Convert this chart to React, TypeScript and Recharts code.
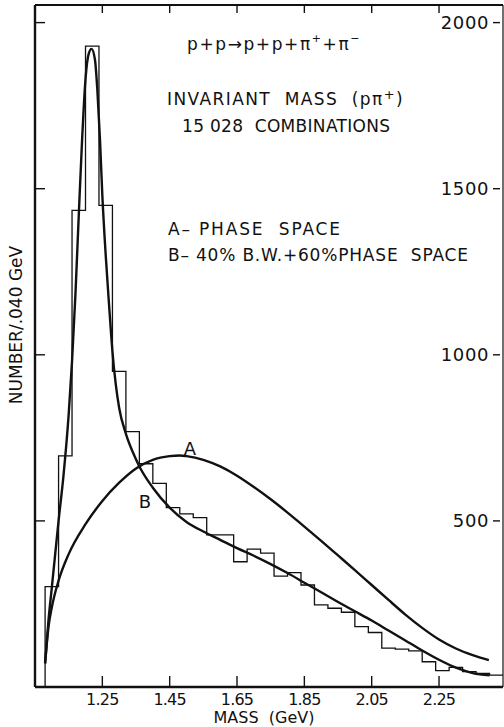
// Invariant mass of the p pi+ system in p + p -> p + p + pi+ + pi-.
// Histogram of 15 028 combinations (0.040 GeV bins) with two fitted
// curves: A = pure phase space, B = 40% Breit-Wigner + 60% phase space.

import { ComposedChart, Line, XAxis, YAxis } from "recharts";

const FONT = "'DejaVu Sans', sans-serif";
const INK = "#111";

// Left edges of the 0.040 GeV mass bins (GeV) and the counts in each.
const binEdges = [
  1.08, 1.12, 1.16, 1.2, 1.24, 1.28, 1.32, 1.36, 1.4, 1.44, 1.48, 1.52,
  1.56, 1.6, 1.64, 1.68, 1.72, 1.76, 1.8, 1.84, 1.88, 1.92, 1.96, 2.0,
  2.04, 2.08, 2.12, 2.16, 2.2, 2.24, 2.28, 2.32, 2.36, 2.4,
];
const binCounts = [
  302, 696, 1435, 1929, 1450, 950, 769, 672, 613, 540, 521, 510,
  458, 458, 377, 415, 403, 334, 344, 307, 247, 237, 225, 182,
  164, 117, 114, 109, 76, 49, 59, 46, 41, 36,
];
const BIN_WIDTH = 0.04;

// Curve A: phase space only.
const massA = [
  1.08, 1.09, 1.1, 1.12, 1.15, 1.2, 1.25, 1.3, 1.35, 1.4, 1.45, 1.48,
  1.5, 1.55, 1.6, 1.65, 1.7, 1.75, 1.8, 1.85, 1.9, 1.95, 2.0, 2.05,
  2.1, 2.15, 2.2, 2.25, 2.3, 2.35, 2.398,
];
const countsA = [
  71, 180, 240, 320, 400, 490, 560, 615, 658, 684, 695, 697,
  695, 684, 664, 636, 602, 565, 525, 483, 440, 396, 352, 307,
  262, 218, 178, 143, 116, 96, 81,
];

// Curve B: 40% Breit-Wigner + 60% phase space.
const massB = [
  1.08, 1.09, 1.1, 1.11, 1.12, 1.134, 1.15, 1.16, 1.17, 1.18, 1.19, 1.2,
  1.21, 1.218, 1.228, 1.235, 1.243, 1.25, 1.26, 1.27, 1.28, 1.29, 1.3,
  1.32, 1.34, 1.36, 1.4, 1.45, 1.5, 1.55, 1.6, 1.65, 1.7, 1.75, 1.8,
  1.85, 1.9, 1.95, 2.0, 2.05, 2.1, 2.15, 2.2, 2.25, 2.3, 2.35, 2.4,
];
const countsB = [
  71, 200, 300, 400, 500, 630, 820, 980, 1180, 1420, 1650, 1830,
  1908, 1921, 1889, 1800, 1648, 1480, 1300, 1150, 1010, 910, 840,
  762, 708, 664, 600, 540, 497, 468, 443, 418, 395, 370, 343,
  314, 285, 256, 228, 200, 170, 140, 110, 82, 58, 42, 35,
];

const massTicks = [1.25, 1.45, 1.65, 1.85, 2.05, 2.25];
const countTicks = [500, 1000, 1500, 2000];

const X_DOMAIN: [number, number] = [1.05, 2.44];
const Y_DOMAIN: [number, number] = [0, 2053];

// Outline of the histogram as a step line: rise from zero at the first
// edge, then one step per bin, closing at the last bin's right edge.
const last = binEdges.length - 1;
const histData = [
  { m: binEdges[0], n: 0 },
  ...binEdges.map((m, i) => ({ m, n: binCounts[i] })),
  { m: +(binEdges[last] + BIN_WIDTH).toFixed(2), n: binCounts[last] },
];
const curveA = massA.map((m, i) => ({ m, n: countsA[i] }));
const curveB = massB.map((m, i) => ({ m, n: countsB[i] }));

function BottomTick({ x, y, payload }: any) {
  return (
    <g>
      <line x1={x} y1={y} x2={x} y2={y - 11} stroke={INK} strokeWidth={1.4} />
      <text
        x={x}
        y={y + 18}
        textAnchor="middle"
        fontSize={16}
        fontFamily={FONT}
        letterSpacing={-0.8}
        fill={INK}
      >
        {Number(payload.value).toFixed(2)}
      </text>
    </g>
  );
}

function TopTick({ x, y }: any) {
  return <line x1={x} y1={y} x2={x} y2={y + 8} stroke={INK} strokeWidth={1.4} />;
}

function LeftTick({ x, y }: any) {
  return <line x1={x} y1={y} x2={x + 10} y2={y} stroke={INK} strokeWidth={1.4} />;
}

function RightTick({ x, y, payload }: any) {
  return (
    <g>
      <text
        x={x - 14}
        y={y + 6}
        textAnchor="end"
        fontSize={18}
        fontFamily={FONT}
        letterSpacing={0.6}
        fill={INK}
      >
        {payload.value}
      </text>
      <line x1={x - 10} y1={y} x2={x - 3} y2={y} stroke={INK} strokeWidth={1.4} />
    </g>
  );
}

const textStyle = { fontFamily: FONT, fill: INK } as const;

export default function App() {
  return (
    <div
      style={{
        position: "absolute",
        left: 0,
        top: 0,
        width: 504,
        height: 727,
        background: "#fff",
      }}
    >
      <ComposedChart
        width={504}
        height={727}
        margin={{ top: 5, right: 1, bottom: 0, left: 35 }}
      >
        <XAxis
          xAxisId="bottom"
          dataKey="m"
          type="number"
          orientation="bottom"
          domain={X_DOMAIN}
          allowDataOverflow
          ticks={massTicks}
          interval={0}
          height={40}
          tickSize={0}
          tickMargin={0}
          tickLine={false}
          tick={BottomTick}
          axisLine={{ stroke: INK, strokeWidth: 2.4 }}
        />
        <XAxis
          xAxisId="top"
          dataKey="m"
          type="number"
          orientation="top"
          mirror
          domain={X_DOMAIN}
          allowDataOverflow
          ticks={massTicks}
          interval={0}
          tickSize={0}
          tickMargin={0}
          tickLine={false}
          tick={TopTick}
          axisLine={{ stroke: INK, strokeWidth: 2 }}
        />
        <YAxis
          yAxisId="left"
          type="number"
          orientation="left"
          mirror
          domain={Y_DOMAIN}
          allowDataOverflow
          ticks={countTicks}
          interval={0}
          tickSize={0}
          tickMargin={0}
          tickLine={false}
          tick={LeftTick}
          axisLine={{ stroke: INK, strokeWidth: 2.4 }}
        />
        <YAxis
          yAxisId="right"
          type="number"
          orientation="right"
          mirror
          domain={Y_DOMAIN}
          allowDataOverflow
          ticks={countTicks}
          interval={0}
          tickSize={0}
          tickMargin={0}
          tickLine={false}
          tick={RightTick}
          axisLine={{ stroke: INK, strokeWidth: 1.2 }}
        />
        <Line
          xAxisId="bottom"
          yAxisId="left"
          data={histData}
          dataKey="n"
          type="stepAfter"
          stroke={INK}
          strokeWidth={1.3}
          dot={false}
          activeDot={false}
          isAnimationActive={false}
        />
        <Line
          xAxisId="bottom"
          yAxisId="left"
          data={curveA}
          dataKey="n"
          type="monotone"
          stroke={INK}
          strokeWidth={2.4}
          dot={false}
          activeDot={false}
          isAnimationActive={false}
        />
        <Line
          xAxisId="bottom"
          yAxisId="left"
          data={curveB}
          dataKey="n"
          type="monotone"
          stroke={INK}
          strokeWidth={2.4}
          dot={false}
          activeDot={false}
          isAnimationActive={false}
        />
      </ComposedChart>

      <svg
        width={504}
        height={727}
        style={{ position: "absolute", left: 0, top: 0, pointerEvents: "none" }}
      >
        <text x={187} y={50} fontSize={17} letterSpacing={1.6} {...textStyle}>
          p+p→p+p+π
          <tspan dy={-8} fontSize={11}>+</tspan>
          <tspan dy={8}>+π</tspan>
          <tspan dy={-8} fontSize={11}>−</tspan>
        </text>
        <text x={167} y={105} fontSize={17} letterSpacing={1.4} {...textStyle}>
          INVARIANT{"\u00a0\u00a0"}MASS{"\u00a0\u00a0"}(pπ
          <tspan dy={-6} fontSize={13}>+</tspan>
          <tspan dy={6}>)</tspan>
        </text>
        <text x={182} y={132} fontSize={17} textLength={208} {...textStyle}>
          15 028{"\u00a0\u00a0"}COMBINATIONS
        </text>
        <text x={168} y={235} fontSize={17} textLength={172} {...textStyle}>
          A– PHASE{"\u00a0\u00a0"}SPACE
        </text>
        <text x={168} y={261} fontSize={17} textLength={300} {...textStyle}>
          B– 40% B.W.+60%PHASE{"\u00a0\u00a0"}SPACE
        </text>

        <text x={190} y={455} fontSize={18} textAnchor="middle" {...textStyle}>
          A
        </text>
        <text x={145} y={508} fontSize={18} textAnchor="middle" {...textStyle}>
          B
        </text>

        <text
          x={22}
          y={325}
          fontSize={17}
          textAnchor="middle"
          transform="rotate(-90 22 325)"
          {...textStyle}
        >
          NUMBER/.040 GeV
        </text>
        <text x={264} y={723} fontSize={16} textAnchor="middle" {...textStyle}>
          MASS{"\u00a0\u00a0"}(GeV)
        </text>
      </svg>
    </div>
  );
}
